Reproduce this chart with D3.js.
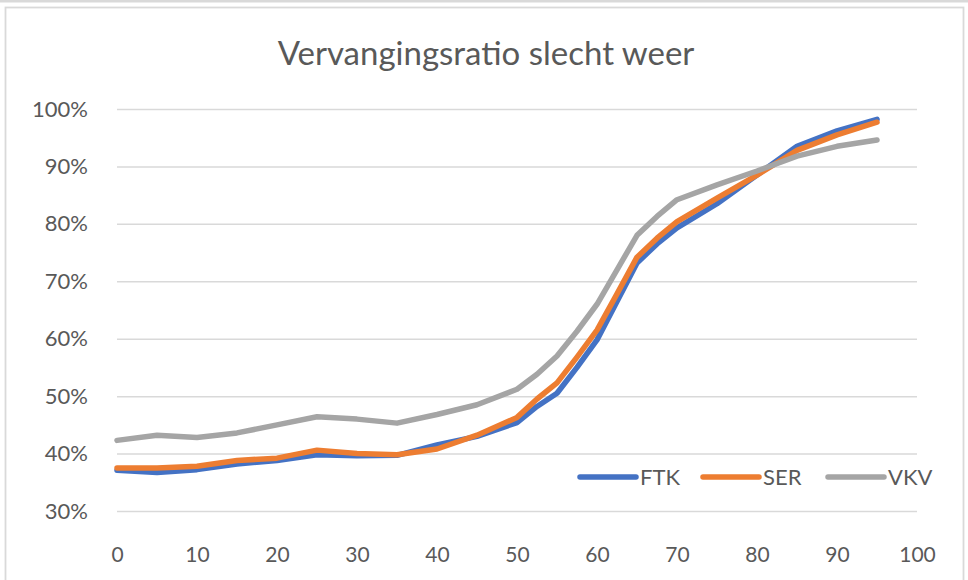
<!DOCTYPE html>
<html>
<head>
<meta charset="utf-8">
<script src="https://cdn.jsdelivr.net/npm/d3@7"></script>
<style>
  body { margin: 0; background: #fff; }
  svg { display: block; font-family: Lato, "Open Sans", sans-serif; }
</style>
</head>
<body>
<svg id="chart" width="968" height="580"></svg>
<script>
// leeftijd (x) en vervangingsratio in % per fonds
const ages = [0, 5, 10, 15, 20, 25, 30, 35, 40, 45, 50, 52.5, 55, 57.5, 60, 62.5, 65, 67.5, 70, 75, 80, 85, 90, 95];
const ftk = [37.1, 36.7, 37.2, 38.2, 38.8, 39.8, 39.6, 39.7, 41.5, 43.0, 45.4, 48.2, 50.5, 55.0, 59.8, 66.5, 73.2, 76.5, 79.3, 83.5, 88.5, 93.5, 96.2, 98.2];
const ser = [37.5, 37.5, 37.8, 38.8, 39.2, 40.6, 40.0, 39.8, 40.8, 43.2, 46.3, 49.5, 52.3, 56.8, 61.5, 67.8, 74.2, 77.5, 80.4, 84.5, 88.5, 92.8, 95.5, 97.7];
const vkv = [42.3, 43.2, 42.8, 43.6, 45.0, 46.4, 46.0, 45.3, 46.8, 48.5, 51.2, 53.8, 57.0, 61.3, 66.0, 72.0, 78.0, 81.3, 84.2, 86.8, 89.2, 91.8, 93.5, 94.6];
const seriesNames = ['FTK', 'SER', 'VKV'];
const seriesColors = ['#4472C4', '#ED7D31', '#A5A5A5'];
const xTicks = [0, 10, 20, 30, 40, 50, 60, 70, 80, 90, 100];
const yTicks = [30, 40, 50, 60, 70, 80, 90, 100];

const svg = d3.select('#chart');

// kaders
svg.append('rect')
  .attr('x', 0).attr('y', 0)
  .attr('width', 968).attr('height', 2.5)
  .attr('fill', '#d9d9d9');
svg.append('rect')
  .attr('x', 5.5).attr('y', 7.5)
  .attr('width', 958).attr('height', 600)
  .attr('fill', '#fff')
  .attr('stroke', '#d9d9d9')
  .attr('stroke-width', 1.8);

const x = d3.scaleLinear().domain([0, 100]).range([117, 917]);
const y = d3.scaleLinear().domain([30, 100]).range([511, 109]);

// titel
svg.append('text')
  .attr('x', 486).attr('y', 65)
  .attr('text-anchor', 'middle')
  .attr('fill', '#595959')
  .style('font-size', '33px')
  .text('Vervangingsratio slecht weer');

// rasterlijnen
const yAxis = d3.axisLeft(y)
  .tickValues(yTicks)
  .tickSize(-(x.range()[1] - x.range()[0]))
  .tickPadding(29)
  .tickFormat(d => d + '%');
const gy = svg.append('g')
  .attr('transform', `translate(${x.range()[0]},0)`)
  .call(yAxis);
gy.select('.domain').remove();
gy.selectAll('.tick line')
  .attr('stroke', '#d9d9d9')
  .attr('stroke-width', 1.5);
gy.selectAll('.tick text')
  .attr('fill', '#595959')
  .style('font-size', '22px')
  .style('font-family', 'Lato, sans-serif');

const xAxis = d3.axisBottom(x)
  .tickValues(xTicks)
  .tickSize(0)
  .tickPadding(36);
const gx = svg.append('g')
  .attr('transform', `translate(0,${y(30)})`)
  .call(xAxis);
gx.select('.domain').remove();
gx.selectAll('.tick text')
  .attr('fill', '#595959')
  .style('font-size', '21px')
  .style('font-family', 'Lato, sans-serif');

// lijnen
const line = d3.line()
  .x((d, i) => x(ages[i]))
  .y(d => y(d));

[ftk, ser, vkv].forEach((vals, i) => {
  svg.append('path')
    .datum(vals)
    .attr('fill', 'none')
    .attr('stroke', seriesColors[i])
    .attr('stroke-width', 5.5)
    .attr('stroke-linejoin', 'round')
    .attr('stroke-linecap', 'round')
    .attr('d', line);
});

// legenda
const legendX = [580, 703, 828];
const legend = svg.append('g');
seriesNames.forEach((name, i) => {
  legend.append('line')
    .attr('x1', legendX[i]).attr('x2', legendX[i] + 56)
    .attr('y1', 477).attr('y2', 477)
    .attr('stroke', seriesColors[i])
    .attr('stroke-width', 5.5)
    .attr('stroke-linecap', 'round');
  legend.append('text')
    .attr('x', legendX[i] + 60).attr('y', 485)
    .attr('fill', '#595959')
    .style('font-size', '22px')
    .text(name);
});
</script>
</body>
</html>
